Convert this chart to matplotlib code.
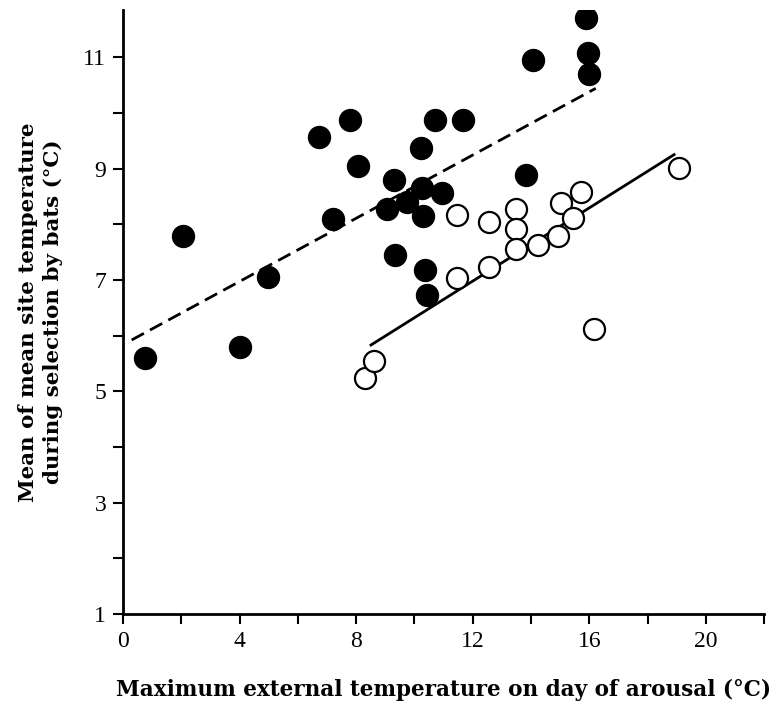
import matplotlib.pyplot as plt
from matplotlib.ticker import MultipleLocator

# filled circles
filled_x = [0.76, 2.07, 4.02, 4.97, 6.71, 7.80, 8.06, 7.19, 9.29, 9.06, 9.32,
            9.75, 10.21, 10.26, 10.30, 10.95, 10.70, 11.67, 10.38, 10.44,
            13.84, 14.07, 15.88, 15.96, 16.00]
filled_y = [5.60, 7.78, 5.80, 7.05, 9.56, 9.88, 9.04, 8.10, 8.79, 8.27, 7.45,
            8.39, 9.37, 8.65, 8.15, 8.56, 9.88, 9.88, 7.17, 6.72,
            8.88, 10.95, 11.71, 11.08, 10.70]

# open circles
open_x = [8.32, 8.63, 11.46, 11.46, 12.55, 12.55, 13.47, 13.47, 13.47,
          14.24, 14.92, 15.02, 15.45, 15.73, 19.06, 16.16]
open_y = [5.24, 5.54, 8.16, 7.03, 8.04, 7.23, 8.28, 7.92, 7.55,
          7.63, 7.78, 8.38, 8.12, 8.58, 9.01, 6.11]

# fitted lines (end points)
dash_x = [0.30, 16.22]
dash_y = [5.92, 10.44]
solid_x = [8.51, 18.91]
solid_y = [5.83, 9.25]

xticks = [0, 4, 8, 12, 16, 20]
yticks = [1, 3, 5, 7, 9, 11]

plt.rcParams['font.family'] = ['Liberation Serif', 'DejaVu Serif']

fig = plt.figure(figsize=(7.83, 7.04), dpi=100)
ax = fig.add_axes([0.157, 0.128, 0.819, 0.858])

ax.plot(dash_x, dash_y, color='black', lw=2, linestyle=(0, (5, 2.5)))
ax.plot(solid_x, solid_y, color='black', lw=2)
ax.scatter(filled_x, filled_y, s=250, color='black', zorder=3)
ax.scatter(open_x, open_y, s=230, facecolor='white', edgecolor='black',
           linewidth=1.6, zorder=3)

ax.set_xlim(0, 22)
ax.set_ylim(1, 11.85)
ax.set_xticks(xticks)
ax.set_yticks(yticks)
ax.xaxis.set_minor_locator(MultipleLocator(2))
ax.yaxis.set_minor_locator(MultipleLocator(1))
ax.tick_params(which='both', direction='out', length=7, width=1.5,
               labelsize=17, pad=5)

for side in ['top', 'right']:
    ax.spines[side].set_visible(False)
for side in ['left', 'bottom']:
    ax.spines[side].set_linewidth(2)

ax.set_xlabel('Maximum external temperature on day of arousal (°C)',
              fontsize=15.5, fontweight='bold', labelpad=20,
              family='DejaVu Serif')
ax.set_ylabel('Mean of mean site temperature\nduring selection by bats (°C)',
              fontsize=15.4, fontweight='bold', labelpad=15, linespacing=1.3,
              family='DejaVu Serif')

fig.savefig('out.png', dpi=100)
